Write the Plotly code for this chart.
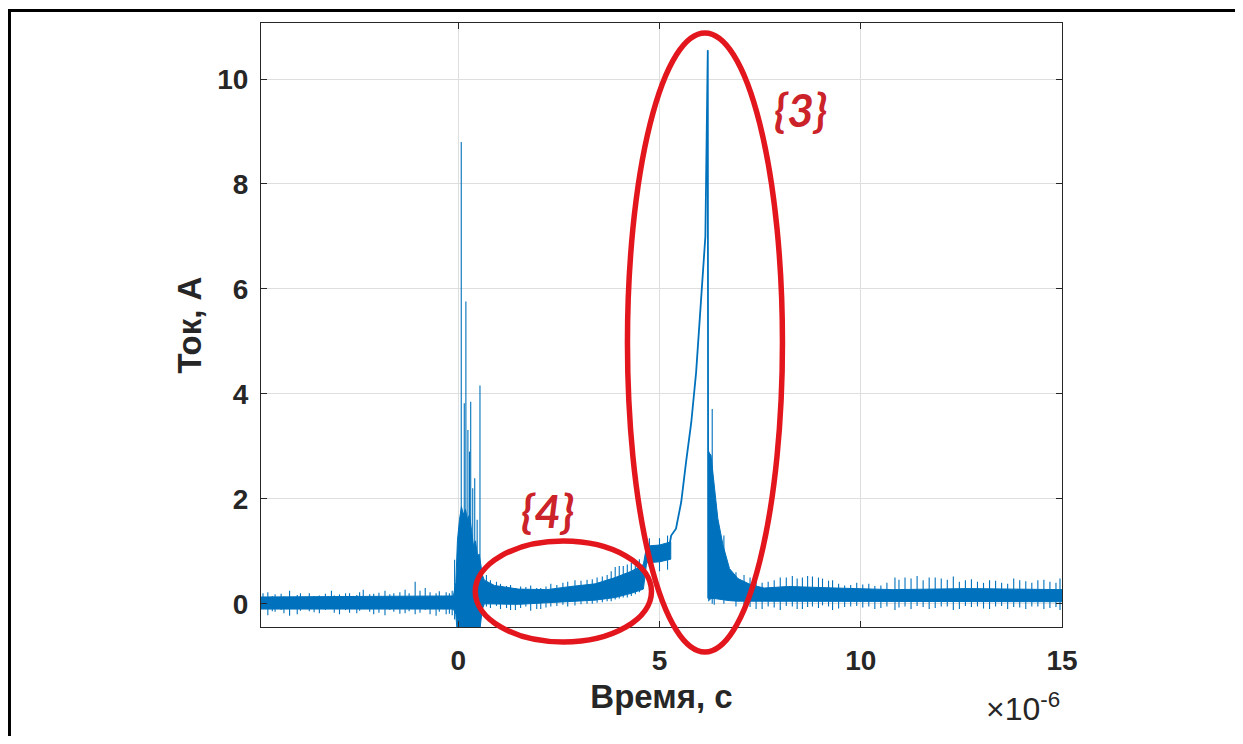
import plotly.graph_objects as go

# ---------------- data (time in microseconds, current in A) ----------------
# noise band envelope before/through the first discharge and up to the rise
band1_t  = [-4.9, -3.0, -1.0, -0.12, -0.06, -0.02, 0.03, 0.08, 0.13, 0.18, 0.23, 0.28, 0.33, 0.38, 0.43, 0.48, 0.52, 0.56, 0.60, 0.65,
            0.90, 1.5, 2.2, 2.8, 3.4, 3.9, 4.3, 4.6, 4.68, 5.0, 5.28]
band1_hi = [0.13, 0.14, 0.14, 0.15, 0.40, 1.20, 1.60, 1.85, 1.70, 1.80, 1.60, 1.70, 1.40, 1.10, 1.20, 0.90, 0.95, 0.75, 0.55, 0.45,
            0.35, 0.28, 0.27, 0.33, 0.38, 0.50, 0.62, 0.75, 1.10, 1.12, 1.18]
band1_lo = [-0.10, -0.10, -0.10, -0.10, -0.20, -0.60, -0.60, -0.60, -0.60, -0.60, -0.60, -0.60, -0.60, -0.60, -0.60, -0.60, -0.60, -0.30, -0.10, 0.00,
            0.00, -0.01, 0.02, 0.04, 0.07, 0.12, 0.20, 0.28, 0.78, 0.80, 0.85]

# noise band envelope of the decay after the main peak and the tail
band2_t  = [6.21, 6.28, 6.37, 6.45, 6.58, 6.74, 6.95, 7.28, 7.6, 8.2, 9.4, 10.8, 12.7, 15.0]
band2_hi = [2.90, 2.83, 2.19, 1.62, 1.11, 0.67, 0.48, 0.36, 0.30, 0.33, 0.30, 0.27, 0.29, 0.27]
band2_lo = [0.05, 0.10, 0.10, 0.10, 0.08, 0.06, 0.05, 0.04, 0.04, 0.04, 0.04, 0.04, 0.04, 0.04]

# main pulse (rise, peak, drop)
pulse_t = [5.22, 5.29, 5.41, 5.54, 5.66, 5.79, 5.91, 6.00, 6.04, 6.08, 6.11, 6.14, 6.20, 6.21, 6.22]
pulse_v = [1.00, 1.30, 1.43, 1.94, 2.70, 3.46, 4.41, 5.43, 5.75, 6.20, 6.60, 7.00, 10.55, 0.10, 2.90]

# individual spikes: time, top value, bottom value
spike_t = [-4.85, -4.73, -4.62, -4.55, -4.4, -4.33, -4.19, -4.0, -3.92, -3.7, -3.58, -3.45, -3.3, -3.15, -3.08, -2.95, -2.8,
           -2.7, -2.52, -2.45, -2.36, -2.2, -2.1, -1.97, -1.82, -1.7, -1.6, -1.45, -1.32, -1.22, -1.07, -0.95, -0.82,
           -0.7, -0.55, -0.47, -0.3, -0.22, -0.15,
           -0.09, 0.01, 0.075, 0.15, 0.19, 0.24, 0.28, 0.31, 0.36, 0.41, 0.47, 0.54,
           0.7, 0.8, 0.95, 1.05, 1.2, 1.3, 1.42, 1.55, 1.68, 1.8, 1.95, 2.05, 2.18, 2.3, 2.45, 2.6, 2.72, 2.9,
           3.05, 3.2, 3.33, 3.45, 3.58, 3.7, 3.8, 3.9, 4.0, 4.1, 4.2, 4.3, 4.4, 4.5,
           4.75, 5.0, 5.2,
           6.31, 6.36, 6.6, 6.9, 7.1, 7.25, 7.4, 7.55, 7.7, 7.85, 8.0, 8.15, 8.3, 8.42, 8.55, 8.68, 8.8, 8.95,
           9.05, 9.2, 9.3, 9.45, 9.6, 9.75, 9.9, 10.05, 10.2, 10.35, 10.5, 10.65, 10.85, 10.95,
           11.1, 11.25, 11.4, 11.55, 11.7, 11.85, 12.0, 12.15, 12.3, 12.45, 12.6, 12.75, 12.9, 13.05,
           13.2, 13.35, 13.5, 13.65, 13.8, 13.95, 14.1, 14.25, 14.4, 14.55, 14.7, 14.85, 14.95]
spike_top = [0.20, 0.22, 0.15, 0.18, 0.19, 0.14, 0.25, 0.17, 0.20, 0.20, 0.15, 0.16, 0.19, 0.25, 0.16, 0.18, 0.20,
             0.20, 0.17, 0.22, 0.27, 0.18, 0.19, 0.21, 0.25, 0.18, 0.20, 0.22, 0.27, 0.20, 0.42, 0.25, 0.30,
             0.22, 0.20, 0.24, 0.22, 0.20, 0.25,
             0.84, 1.44, 8.80, 3.82, 5.76, 3.31, 2.90, 3.85, 2.20, 2.39, 1.60, 4.16,
             0.55, 0.45, 0.42, 0.38, 0.34, 0.36, 0.30, 0.33, 0.32, 0.35, 0.30, 0.30, 0.33, 0.38, 0.36, 0.40, 0.42, 0.45,
             0.44, 0.46, 0.47, 0.50, 0.52, 0.55, 0.62, 0.70, 0.72, 0.72, 0.75, 0.78, 0.80, 0.85,
             1.25, 1.25, 1.30,
             3.71, 0.50, 1.30, 0.60, 0.55, 0.50, 0.45, 0.40, 0.42, 0.45, 0.50, 0.50, 0.53, 0.48, 0.50, 0.53, 0.52, 0.50,
             0.48, 0.44, 0.45, 0.38, 0.35, 0.36, 0.40, 0.37, 0.38, 0.34, 0.35, 0.40, 0.50, 0.46,
             0.50, 0.48, 0.53, 0.45, 0.50, 0.50, 0.48, 0.46, 0.52, 0.42, 0.45, 0.47, 0.42, 0.40,
             0.45, 0.44, 0.40, 0.38, 0.48, 0.45, 0.43, 0.40, 0.45, 0.46, 0.42, 0.40, 0.48]
spike_bot = [-0.05, -0.22, -0.14, -0.15, -0.12, -0.18, -0.23, -0.20, -0.13, -0.14, -0.16, -0.18, -0.12, -0.05, -0.17, -0.20, -0.12,
             -0.17, -0.18, -0.13, -0.10, -0.15, -0.20, -0.17, -0.22, -0.12, -0.15, -0.19, -0.18, -0.14, -0.20, -0.17, -0.12,
             -0.20, -0.23, -0.15, -0.20, -0.19, -0.22,
             -0.30, -0.50, -0.50, -0.50, -0.50, -0.50, -0.50, -0.50, -0.50, -0.50, -0.50, -0.50,
             -0.05, -0.08, -0.04, -0.10, -0.08, -0.12, -0.12, -0.08, -0.05, -0.13, -0.10, -0.10, -0.07, -0.05, -0.04, -0.02, -0.05, -0.03,
             -0.01, 0.00, 0.00, 0.02, 0.03, 0.05, 0.05, 0.08, 0.10, 0.12, 0.12, 0.15, 0.18, 0.22,
             0.70, 0.62, 0.65,
             0.00, -0.02, 0.00, -0.05, -0.08, -0.06, -0.10, -0.10, -0.05, -0.07, -0.12, -0.04, -0.05, -0.10, -0.10, -0.06, -0.05, -0.08,
             -0.03, -0.05, -0.12, -0.09, -0.06, -0.05, -0.04, -0.07, -0.05, -0.10, -0.08, -0.05, -0.12, -0.07,
             -0.05, -0.10, -0.04, -0.06, -0.10, -0.08, -0.05, -0.05, -0.12, -0.10, -0.04, -0.06, -0.05, -0.09,
             -0.10, -0.05, -0.04, -0.10, -0.06, -0.07, -0.10, -0.05, -0.05, -0.10, -0.08, -0.06, -0.12]

x_tick_vals = [0, 5, 10, 15]
y_tick_vals = [0, 2, 4, 6, 8, 10]

US = 1e-6
BLUE = "#0072BD"
AX = "#262626"
GRID = "#DEDEDE"
RED = "#E3161D"
RED_TXT = "#CC2229"


def envelope(t, hi, lo):
    xs = [v * US for v in t] + [v * US for v in reversed(t)]
    ys = list(hi) + list(reversed(lo))
    return xs, ys


fig = go.Figure()

for bt, bh, bl in [(band1_t, band1_hi, band1_lo), (band2_t, band2_hi, band2_lo)]:
    xs, ys = envelope(bt, bh, bl)
    fig.add_trace(go.Scatter(x=xs, y=ys, mode="lines", fill="toself", fillcolor=BLUE,
                             line=dict(color=BLUE, width=1), hoverinfo="skip", showlegend=False))

sx, sy = [], []
for t, top, bot in zip(spike_t, spike_top, spike_bot):
    sx += [t * US, t * US, None]
    sy += [bot, top, None]
fig.add_trace(go.Scatter(x=sx, y=sy, mode="lines", line=dict(color=BLUE, width=1.1),
                         hoverinfo="skip", showlegend=False))

fig.add_trace(go.Scatter(x=[t * US for t in pulse_t], y=pulse_v, mode="lines",
                         line=dict(color=BLUE, width=1.8), showlegend=False))

tick_font = dict(family="Liberation Sans", size=28, color=AX, weight="bold")
title_font = dict(family="Liberation Sans", size=33, color=AX, weight="bold")

# the page body adds an 8px margin on every side; the figure is sized to fit inside it
fig.update_layout(
    width=1227, height=728, autosize=False,
    margin=dict(l=253, r=173, t=15, b=109),
    paper_bgcolor="white", plot_bgcolor="white",
    showlegend=False,
    xaxis=dict(range=[-4.9 * US, 15 * US], tickvals=[v * US for v in x_tick_vals],
               ticktext=[str(v) for v in x_tick_vals], tickfont=tick_font,
               showgrid=True, gridcolor=GRID, gridwidth=1, zeroline=False,
               showline=True, linecolor=AX, linewidth=1, mirror="ticks",
               ticks="inside", ticklen=6, tickcolor=AX, ticklabelstandoff=8,
               title=dict(text="Время, с", font=title_font, standoff=10)),
    yaxis=dict(range=[-0.442, 11.067], tickvals=y_tick_vals,
               ticktext=[str(v) for v in y_tick_vals], tickfont=tick_font,
               showgrid=True, gridcolor=GRID, gridwidth=1, zeroline=False,
               showline=True, linecolor=AX, linewidth=1, mirror="ticks",
               ticks="inside", ticklen=6, tickcolor=AX, ticklabelstandoff=6,
               title=dict(text="Ток, А", font=title_font, standoff=5)),
)

# outer frame of the picture: only its left and top edges fall inside the page
fig.add_shape(type="line", xref="paper", yref="paper",
              x0=-0.316, x1=1.216, y0=1.0207, y1=1.0207,
              line=dict(color="black", width=3), layer="above")
fig.add_shape(type="line", xref="paper", yref="paper",
              x0=-0.314, x1=-0.314, y0=1.023, y1=-0.181,
              line=dict(color="black", width=3), layer="above")

# red highlight ellipses
fig.add_shape(type="circle", xref="paper", yref="paper",
              x0=0.4575, x1=0.651, y0=-0.0414, y1=0.9834,
              line=dict(color=RED, width=5.5), layer="above")
fig.add_shape(type="circle", xref="paper", yref="paper",
              x0=0.2675, x1=0.4875, y0=-0.0248, y1=0.1424,
              line=dict(color=RED, width=5.5), layer="above")

label_font = dict(family="Lato", size=46, color=RED_TXT, weight="bold", style="italic")
fig.add_annotation(text="{3}", xref="paper", yref="paper", x=0.674, y=0.856,
                   xanchor="center", yanchor="middle", showarrow=False, font=label_font)
fig.add_annotation(text="{4}", xref="paper", yref="paper", x=0.358, y=0.193,
                   xanchor="center", yanchor="middle", showarrow=False, font=label_font)

fig.add_annotation(text="×10<sup>-6</sup>", xref="paper", yref="paper", x=1.0, y=-0.132,
                   xanchor="right", yanchor="middle", showarrow=False,
                   font=dict(family="Liberation Sans", size=32, color=AX))

fig.write_html("out.html")
